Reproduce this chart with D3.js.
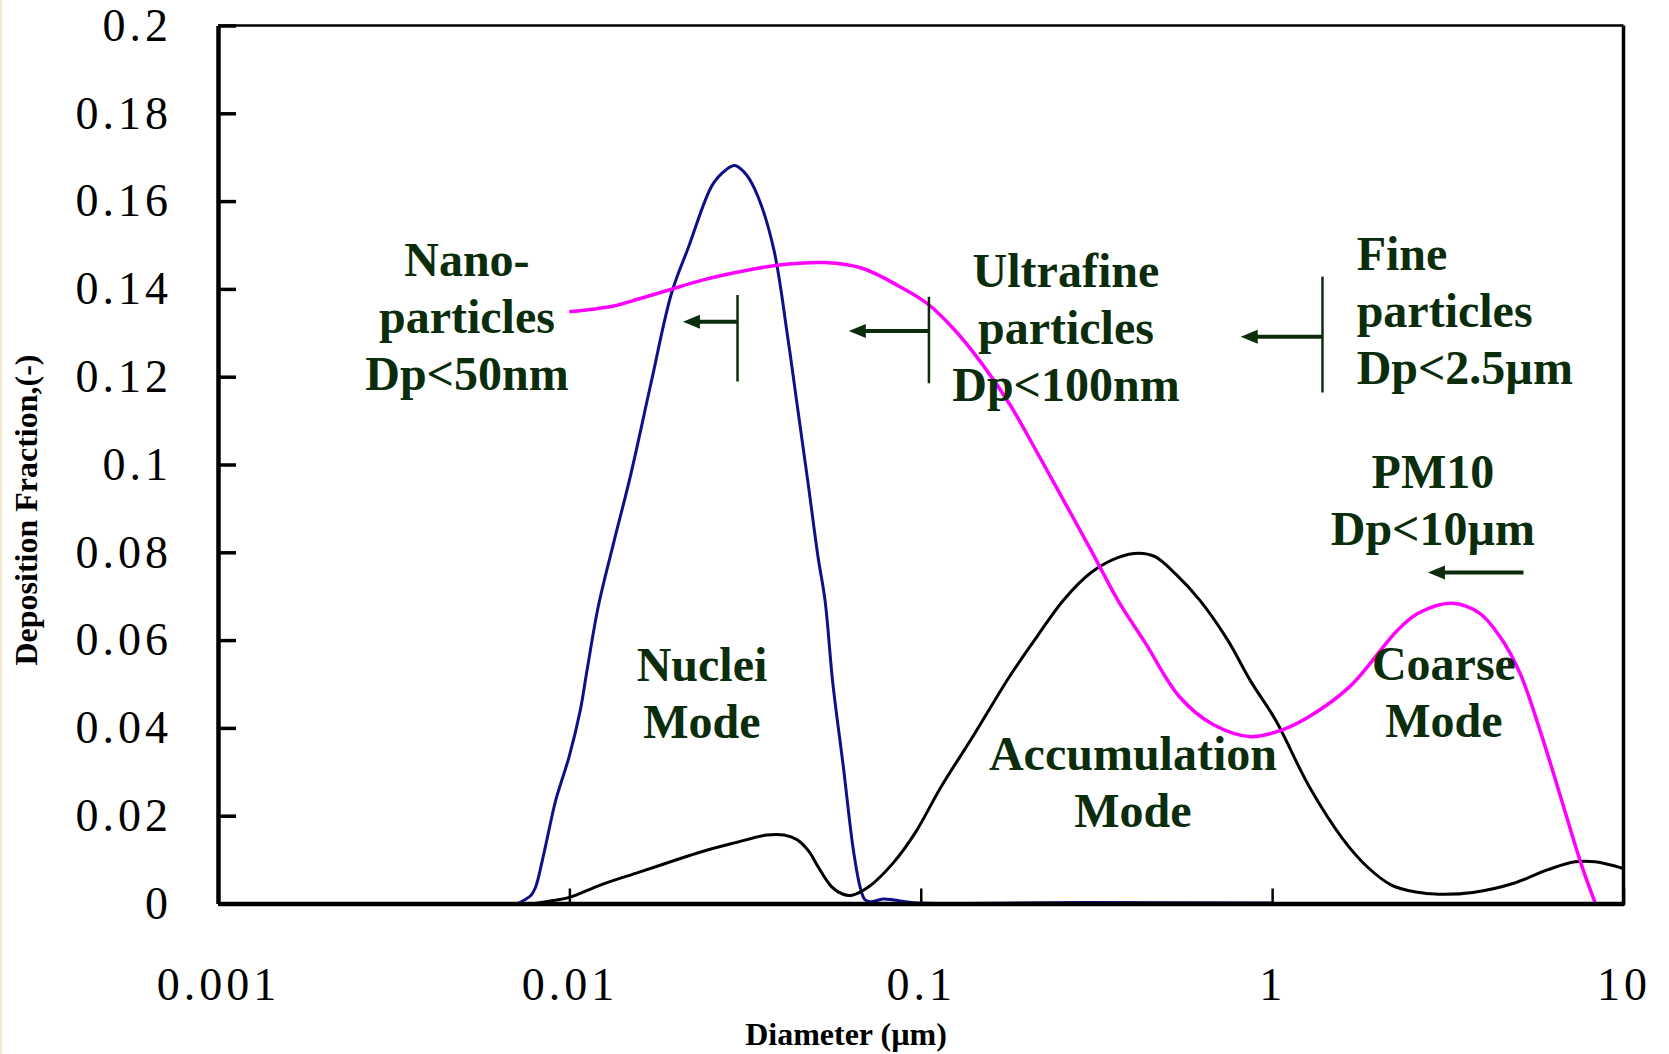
<!DOCTYPE html>
<html>
<head>
<meta charset="utf-8">
<script src="https://cdn.jsdelivr.net/npm/d3@7"></script>
<style>
  html, body { margin: 0; padding: 0; background: #fff; }
  svg { display: block; }
</style>
</head>
<body>
<div id="chart"></div>
<script>
// tick values
const xTicks = [0.001, 0.01, 0.1, 1, 10];
const yTicks = [0, 0.02, 0.04, 0.06, 0.08, 0.1, 0.12, 0.14, 0.16, 0.18, 0.2];

// nuclei mode curve (blue) : [diameter um, deposition fraction]
const nucleiCurve = [
  [0.00713, 0], [0.00778, 0.0019], [0.00802, 0.0038], [0.00838, 0.0099], [0.00863, 0.0145],
  [0.00915, 0.0236], [0.00998, 0.0334], [0.01074, 0.0440], [0.01122, 0.0530], [0.01208, 0.0676],
  [0.01336, 0.0821], [0.01494, 0.0976], [0.01707, 0.1185], [0.01953, 0.1390], [0.02185, 0.1496],
  [0.02553, 0.1637], [0.02788, 0.1671], [0.02958, 0.1681], [0.0319, 0.1660], [0.03443, 0.1610],
  [0.0382, 0.1489], [0.0418, 0.1291], [0.0447, 0.1124], [0.0478, 0.0957], [0.0510, 0.0790],
  [0.0534, 0.0691], [0.0562, 0.0502], [0.0602, 0.0312], [0.0643, 0.0122], [0.0672, 0.0038],
  [0.0693, 0.0009], [0.0719, 0.0004], [0.0780, 0.0010], [0.0840, 0.0008], [0.0955, 0.0002],
  [0.3, 0.0002], [1.0, 0.0001]
];

// total deposition (magenta)
const totalCurve = [
  [0.0100, 0.1348], [0.01222, 0.1356], [0.01336, 0.1361], [0.01574, 0.1377], [0.0191, 0.1397],
  [0.0239, 0.1420], [0.0305, 0.1439], [0.039, 0.1454], [0.0534, 0.1460], [0.0681, 0.1447],
  [0.0873, 0.1405], [0.1042, 0.1367], [0.1247, 0.1307], [0.1489, 0.1231], [0.1786, 0.1139],
  [0.2125, 0.1033], [0.2547, 0.0919], [0.3051, 0.0805], [0.3637, 0.0691], [0.4359, 0.0593],
  [0.5448, 0.0471], [0.6813, 0.0407], [0.8696, 0.0380], [1.064, 0.0395], [1.276, 0.0426],
  [1.663, 0.0494], [2.278, 0.0623], [2.603, 0.0661], [3.251, 0.0684], [3.899, 0.0661],
  [4.449, 0.0608], [5.079, 0.0524], [5.825, 0.0387], [6.663, 0.0236], [7.621, 0.0084],
  [8.32, 0]
];

// accumulation / coarse distribution (black)
const massCurve = [
  [0.0080, 0], [0.00901, 0.0007], [0.0100, 0.0014], [0.01225, 0.0042], [0.01574, 0.0071],
  [0.0194, 0.0095], [0.0238, 0.0118], [0.0295, 0.0138], [0.0365, 0.0156], [0.0408, 0.0156],
  [0.0445, 0.0145], [0.0481, 0.0118], [0.0510, 0.0084], [0.0558, 0.0038], [0.0601, 0.0021],
  [0.0638, 0.0019], [0.0711, 0.0038], [0.0834, 0.0092], [0.0966, 0.0162], [0.1143, 0.0266],
  [0.1419, 0.0385], [0.1786, 0.0516], [0.2155, 0.0611], [0.2547, 0.0691], [0.3054, 0.0754],
  [0.3637, 0.0788], [0.4171, 0.0798], [0.4645, 0.0790], [0.5337, 0.0749], [0.6222, 0.0691],
  [0.7460, 0.0601], [0.8696, 0.0506], [1.021, 0.0419], [1.276, 0.0266], [1.596, 0.0145],
  [1.874, 0.0082], [2.185, 0.0042], [2.564, 0.0026], [2.980, 0.0021], [3.726, 0.0025],
  [4.872, 0.0046], [6.095, 0.0077], [7.28, 0.0095], [8.31, 0.0095], [9.96, 0.0080]
];

// size class cut markers: bar at d from y0 to y1, arrow tip at tip
const cutBars = [
  { d: 0.0301, y0: 0.1189, y1: 0.1386 },
  { d: 0.1055, y0: 0.1185, y1: 0.1382 },
  { d: 1.391, y0: 0.1164, y1: 0.1428 }
];
const cutArrows = [
  { from: 0.0301, to: 0.02105, y: 0.1325 },
  { from: 0.1055, to: 0.0624, y: 0.1304 },
  { from: 1.391, to: 0.8139, y: 0.1291 },
  { from: 5.193, to: 2.776, y: 0.0754 }
];

// annotation texts (anchor in data units, first baseline)
const notes = [
  { d: 0.00511, y: 0.1429, anchor: "middle", lines: ["Nano-", "particles", "Dp<50nm"] },
  { d: 0.2589, y: 0.1405, anchor: "middle", lines: ["Ultrafine", "particles", "Dp<100nm"] },
  { d: 1.740, y: 0.1443, anchor: "start", lines: ["Fine", "particles", "Dp<2.5µm"] },
  { d: 2.868, y: 0.0946, anchor: "middle", lines: ["PM10", "Dp<10µm"] },
  { d: 0.02384, y: 0.0507, anchor: "middle", lines: ["Nuclei", "Mode"] },
  { d: 0.4017, y: 0.0304, anchor: "middle", lines: ["Accumulation", "Mode"] },
  { d: 3.083, y: 0.0509, anchor: "middle", lines: ["Coarse", "Mode"] }
];

const width = 1669, height = 1054;
const margin = { left: 218, right: 1623.5, top: 25.5, bottom: 903.5 };
const noteColor = "#0b2d0b";

const svg = d3.select("#chart").append("svg")
  .attr("width", width)
  .attr("height", height);

svg.append("rect").attr("width", width).attr("height", height).attr("fill", "#fff");
svg.append("rect").attr("x", 0).attr("y", 0).attr("width", 2).attr("height", height).attr("fill", "#f4e6c9");

const x = d3.scaleLog().domain([0.001, 10]).range([margin.left, margin.right]);
const y = d3.scaleLinear().domain([0, 0.2]).range([margin.bottom, margin.top]);

svg.append("clipPath").attr("id", "plotClip")
  .append("rect")
  .attr("x", margin.left).attr("y", margin.top)
  .attr("width", margin.right - margin.left)
  .attr("height", margin.bottom - margin.top + 1);

// curves
const line = d3.line()
  .x(d => x(d[0]))
  .y(d => y(d[1]))
  .curve(d3.curveCatmullRom.alpha(0.5));

const curves = svg.append("g").attr("clip-path", "url(#plotClip)");
curves.append("path").datum(nucleiCurve)
  .attr("d", line).attr("fill", "none").attr("stroke", "#0f0f8a").attr("stroke-width", 3);
curves.append("path").datum(massCurve)
  .attr("d", line).attr("fill", "none").attr("stroke", "#000").attr("stroke-width", 3);
curves.append("path").datum(totalCurve)
  .attr("d", line).attr("fill", "none").attr("stroke", "#ff00ff").attr("stroke-width", 3.5);

// axes
const yAxis = d3.axisLeft(y)
  .tickValues(yTicks)
  .tickSize(-18)
  .tickSizeOuter(0)
  .tickPadding(46)
  .tickFormat(d => String(+d.toFixed(2)));

const gy = svg.append("g").attr("transform", `translate(${margin.left},0)`).call(yAxis);
gy.select(".domain").attr("stroke", "#000").attr("stroke-width", 4.5);
gy.selectAll(".tick line").attr("stroke", "#000").attr("stroke-width", 3.5);
gy.selectAll(".tick text")
  .attr("font-family", "'Liberation Serif', 'Times New Roman', serif")
  .attr("font-size", 46)
  .attr("letter-spacing", 4)
  .attr("fill", "#000");

const xAxis = d3.axisBottom(x)
  .tickValues(xTicks)
  .tickSize(-15)
  .tickSizeOuter(0)
  .tickPadding(64)
  .tickFormat(d => String(d));

const gx = svg.append("g").attr("transform", `translate(0,${margin.bottom})`).call(xAxis);
gx.select(".domain").attr("stroke", "#000").attr("stroke-width", 4.5);
gx.selectAll(".tick line").attr("stroke", "#000").attr("stroke-width", 2.5);
gx.selectAll(".tick text")
  .attr("font-family", "'Liberation Serif', 'Times New Roman', serif")
  .attr("font-size", 46)
  .attr("letter-spacing", 4)
  .attr("fill", "#000");

// top and right frame
svg.append("line")
  .attr("x1", margin.left).attr("x2", margin.right)
  .attr("y1", margin.top).attr("y2", margin.top)
  .attr("stroke", "#000").attr("stroke-width", 2.5);
svg.append("line")
  .attr("x1", margin.right).attr("x2", margin.right)
  .attr("y1", margin.top).attr("y2", margin.bottom + 2)
  .attr("stroke", "#000").attr("stroke-width", 3.5);

// axis titles
svg.append("text")
  .attr("x", 846).attr("y", 1045)
  .attr("text-anchor", "middle")
  .attr("font-family", "'Liberation Serif', 'Times New Roman', serif")
  .attr("font-weight", "bold")
  .attr("font-size", 32)
  .text("Diameter (µm)");

svg.append("text")
  .attr("transform", "translate(37,510) rotate(-90)")
  .attr("text-anchor", "middle")
  .attr("font-family", "'Liberation Serif', 'Times New Roman', serif")
  .attr("font-weight", "bold")
  .attr("font-size", 32)
  .text("Deposition Fraction,(-)");

// size class markers
const marks = svg.append("g");
marks.selectAll("line.bar")
  .data(cutBars)
  .join("line")
  .attr("class", "bar")
  .attr("x1", d => x(d.d)).attr("x2", d => x(d.d))
  .attr("y1", d => y(d.y0)).attr("y2", d => y(d.y1))
  .attr("stroke", noteColor).attr("stroke-width", 2.5);

const headLen = 17, headHalf = 7;
const arrows = marks.selectAll("g.arrow")
  .data(cutArrows)
  .join("g")
  .attr("class", "arrow");
arrows.append("line")
  .attr("x1", d => x(d.from)).attr("x2", d => x(d.to) + headLen - 2)
  .attr("y1", d => y(d.y)).attr("y2", d => y(d.y))
  .attr("stroke", noteColor).attr("stroke-width", 4);
arrows.append("path")
  .attr("d", d => {
    const tx = x(d.to), ty = y(d.y);
    return `M${tx},${ty}L${tx + headLen},${ty - headHalf}L${tx + headLen},${ty + headHalf}Z`;
  })
  .attr("fill", noteColor);

// annotation texts
const lineStep = 57;
const noteText = svg.append("g")
  .attr("font-family", "'Liberation Serif', 'Times New Roman', serif")
  .attr("font-weight", "bold")
  .attr("font-size", 48)
  .attr("fill", noteColor);

notes.forEach(n => {
  const t = noteText.append("text")
    .attr("text-anchor", n.anchor);
  n.lines.forEach((s, i) => {
    t.append("tspan")
      .attr("x", x(n.d))
      .attr("y", y(n.y) + i * lineStep)
      .text(s);
  });
});
</script>
</body>
</html>
